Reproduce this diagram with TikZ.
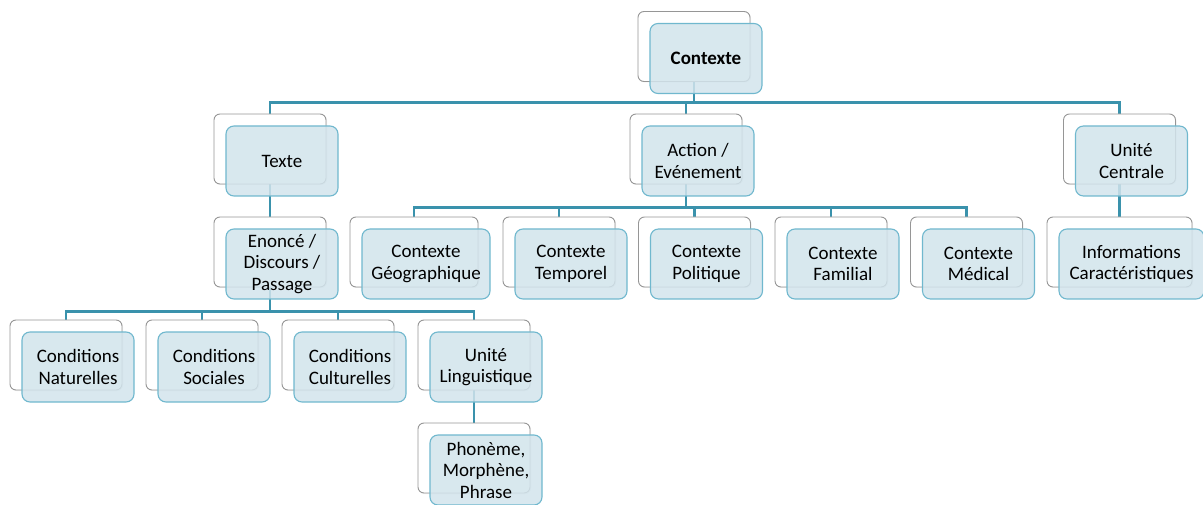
\documentclass[tikz,border=0pt]{standalone}
\usepackage{fontspec}
\setmainfont{Carlito}
\usetikzlibrary{backgrounds,shadows}

\definecolor{boxfill}{RGB}{210,228,236}
\definecolor{boxline}{RGB}{112,184,206}
\definecolor{backline}{RGB}{150,150,150}
\definecolor{linkcol}{RGB}{58,146,172}

\tikzset{
  backbox/.style={draw=backline, fill=white, rounded corners=6pt, line width=0.9pt,
    minimum width=112pt, minimum height=70pt, inner sep=0pt,
    drop shadow={shadow xshift=1pt, shadow yshift=-1pt, opacity=0.15}},
  frontbox/.style={draw=boxline, fill=boxfill, fill opacity=0.85, text opacity=1,
    rounded corners=8pt, line width=1.1pt, minimum width=112pt, minimum height=70pt,
    inner sep=0pt, align=center, font=\fontsize{19}{21.5}\selectfont},
  link/.style={draw=linkcol, line width=2.3pt}
}

\begin{document}
\begin{tikzpicture}[x=1pt, y=-1pt]
                   \useasboundingbox (0,0) rectangle (1203,505);

                   \node[backbox] (ctxb) at (694,46.5) {};
                   \node[backbox] (txtb) at (270,149) {};
                   \node[backbox] (actb) at (686,149) {};
                   \node[backbox] (ucb) at (1119.5,149) {};
                   \node[backbox] (enob) at (270,252) {};
                   \node[backbox, minimum width=128pt] (geob) at (414,252) {};
                   \node[backbox] (tempb) at (559,252) {};
                   \node[backbox] (polb) at (694.5,252) {};
                   \node[backbox] (famb) at (831,252) {};
                   \node[backbox] (medb) at (966.5,252) {};
                   \node[backbox, minimum width=145pt] (infob) at (1119.5,252) {};
                   \node[backbox] (natb) at (66,355) {};
                   \node[backbox] (socb) at (202,355) {};
                   \node[backbox] (culb) at (338,355) {};
                   \node[backbox] (lingb) at (474,355) {};
                   \node[backbox] (phonb) at (474,458) {};

                   \node[frontbox] (ctx) at ([shift={(12,12)}]ctxb.center) {\bfseries Contexte};
                   \node[frontbox] (txt) at ([shift={(12,12)}]txtb.center) {Texte};
                   \node[frontbox] (act) at ([shift={(12,12)}]actb.center) {Action /\\Evénement};
                   \node[frontbox] (uc) at ([shift={(12,12)}]ucb.center) {Unité\\Centrale};
                   \node[frontbox] (eno) at ([shift={(12,12)}]enob.center) {Enoncé /\\Discours /\\Passage};
                   \node[frontbox, minimum width=128pt] (geo) at ([shift={(12,12)}]geob.center) {Contexte\\Géographique};
                   \node[frontbox] (temp) at ([shift={(12,12)}]tempb.center) {Contexte\\Temporel};
                   \node[frontbox] (pol) at ([shift={(12,12)}]polb.center) {Contexte\\Politique};
                   \node[frontbox] (fam) at ([shift={(12,12)}]famb.center) {Contexte\\Familial};
                   \node[frontbox] (med) at ([shift={(12,12)}]medb.center) {Contexte\\Médical};
                   \node[frontbox, minimum width=145pt] (info) at ([shift={(12,12)}]infob.center) {Informations\\Caractéristiques};
                   \node[frontbox] (nat) at ([shift={(12,12)}]natb.center) {Conditions\\Naturelles};
                   \node[frontbox] (soc) at ([shift={(12,12)}]socb.center) {Conditions\\Sociales};
                   \node[frontbox] (cul) at ([shift={(12,12)}]culb.center) {Conditions\\Culturelles};
                   \node[frontbox] (ling) at ([shift={(12,12)}]lingb.center) {Unité\\Linguistique};
                   \node[frontbox] (phon) at ([shift={(12,12)}]phonb.center) {Phonème,\\Morphène,\\Phrase};

                   \begin{scope}[on background layer]
                   \draw[link] (ctxb.south) -- ++(0,20.5) -| (txtb.north);
                   \draw[link] (ctxb.south) -- ++(0,20.5) -| (ucb.north);
                   \draw[link] (ctxb.south) -- ++(0,20.5) -| (actb.north);
                   \draw[link] (txtb.south) -- (enob.north);
                   \draw[link] (ucb.south) -- (infob.north);
                   \draw[link] (actb.south) -- ++(0,23) -| (geob.north);
                   \draw[link] (actb.south) -- ++(0,23) -| (tempb.north);
                   \draw[link] (actb.south) -- ++(0,23) -| (polb.north);
                   \draw[link] (actb.south) -- ++(0,23) -| (famb.north);
                   \draw[link] (actb.south) -- ++(0,23) -| (medb.north);
                   \draw[link] (enob.south) -- ++(0,24) -| (natb.north);
                   \draw[link] (enob.south) -- ++(0,24) -| (socb.north);
                   \draw[link] (enob.south) -- ++(0,24) -| (culb.north);
                   \draw[link] (enob.south) -- ++(0,24) -| (lingb.north);
                   \draw[link] (lingb.south) -- (phonb.north);
                   \end{scope}

                  \end{tikzpicture}
\end{document}
